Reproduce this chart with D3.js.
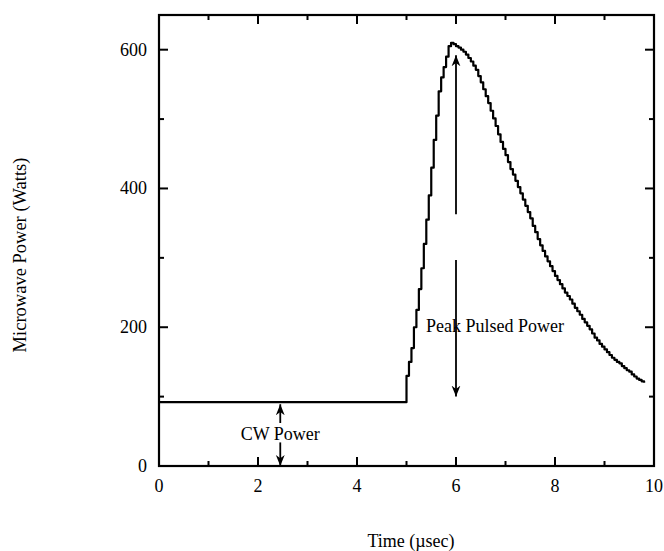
<!DOCTYPE html>
<html>
<head>
<meta charset="utf-8">
<script src="https://cdn.jsdelivr.net/npm/d3@7"></script>
<style>
  body { margin: 0; background: #fff; }
  text { font-family: "Liberation Serif", "DejaVu Serif", serif; fill: #000; }
</style>
</head>
<body>
<div id="chart"></div>
<script>
// Data (time in usec, power in W)
var timeUs = [0, 4.98, 5.00, 5.05, 5.10, 5.15, 5.20, 5.25, 5.30, 5.35, 5.40, 5.45, 5.50, 5.55, 5.60,
    5.65, 5.70, 5.75, 5.80, 5.85, 5.90, 5.95,
    6.00, 6.05, 6.10, 6.15, 6.20, 6.25, 6.30, 6.35, 6.40, 6.45, 6.50, 6.55, 6.60, 6.65, 6.70, 6.75,
    6.80, 6.85, 6.90, 6.95, 7.00, 7.05, 7.10, 7.15, 7.20, 7.25, 7.30, 7.35, 7.40, 7.45, 7.50, 7.55,
    7.60, 7.65, 7.70, 7.75, 7.80, 7.85, 7.90, 7.95, 8.00, 8.05, 8.10, 8.15, 8.20, 8.25, 8.30, 8.35,
    8.40, 8.45, 8.50, 8.55, 8.60, 8.65, 8.70, 8.75, 8.80, 8.85, 8.90, 8.95, 9.00, 9.05, 9.10, 9.15,
    9.20, 9.25, 9.30, 9.35, 9.40, 9.45, 9.50, 9.55, 9.60, 9.65, 9.70, 9.75, 9.80];
var powerW = [92, 92, 130, 150, 170, 200, 225, 255, 285, 320, 355, 390, 430, 470, 505,
    540, 560, 575, 590, 605, 610, 608,
    605, 603, 600, 597, 593, 588, 583, 577, 571, 562, 553, 543, 533, 523, 512, 501,
    490, 478, 467, 457, 448, 438, 428, 420, 411, 402, 393, 384, 375, 366, 357, 346,
    337, 327, 318, 310, 302, 295, 288, 281, 274, 268, 262, 256, 250, 245, 240, 234,
    228, 223, 218, 212, 207, 202, 197, 191, 185, 181, 176, 172, 168, 164, 160, 156,
    153, 150, 148, 144, 141, 138, 136, 132, 129, 126, 124, 122, 120];

var xTicks = [0, 2, 4, 6, 8, 10];
var xMinor = [1, 3, 5, 7, 9];
var yTicks = [0, 200, 400, 600];
var yMinor = [100, 300, 500];

var w = 664, h = 551;
var pLeft = 159, pRight = 654, pTop = 15, pBottom = 466;

var svg = d3.select("#chart").append("svg").attr("width", w).attr("height", h);

var x = d3.scaleLinear().domain([0, 10]).range([pLeft, pRight]);
var y = d3.scaleLinear().domain([0, 650]).range([pBottom, pTop]);

// arrow marker
svg.append("defs").append("marker")
    .attr("id", "head")
    .attr("viewBox", "0 0 10 10")
    .attr("refX", 10).attr("refY", 5)
    .attr("markerWidth", 11).attr("markerHeight", 11)
    .attr("markerUnits", "userSpaceOnUse")
    .attr("orient", "auto")
    .append("path").attr("d", "M0,1 L10,5 L0,9 L3,5 Z").attr("fill", "#000");

// inward ticks on all four sides
var tickG = svg.append("g").attr("stroke", "#000").attr("stroke-width", 2);
function xTickLines(vals, len) {
    tickG.selectAll(null).data(vals).enter().append("line")
        .attr("x1", function(d) { return x(d); }).attr("x2", function(d) { return x(d); })
        .attr("y1", pBottom).attr("y2", pBottom - len);
    tickG.selectAll(null).data(vals).enter().append("line")
        .attr("x1", function(d) { return x(d); }).attr("x2", function(d) { return x(d); })
        .attr("y1", pTop).attr("y2", pTop + len);
}
function yTickLines(vals, len) {
    tickG.selectAll(null).data(vals).enter().append("line")
        .attr("y1", function(d) { return y(d); }).attr("y2", function(d) { return y(d); })
        .attr("x1", pLeft).attr("x2", pLeft + len);
    tickG.selectAll(null).data(vals).enter().append("line")
        .attr("y1", function(d) { return y(d); }).attr("y2", function(d) { return y(d); })
        .attr("x1", pRight).attr("x2", pRight - len);
}
xTickLines(xTicks, 9);
xTickLines(xMinor, 5);
yTickLines(yTicks, 9);
yTickLines(yMinor, 5);

svg.append("rect")
    .attr("x", pLeft).attr("y", pTop)
    .attr("width", pRight - pLeft).attr("height", pBottom - pTop)
    .attr("fill", "none").attr("stroke", "#000").attr("stroke-width", 2.2);

// tick labels
svg.selectAll(".xl").data(xTicks).enter().append("text")
    .attr("x", function(d) { return x(d); })
    .attr("y", pBottom + 26)
    .attr("text-anchor", "middle")
    .attr("font-size", "18px")
    .text(function(d) { return d; });

svg.selectAll(".yl").data(yTicks).enter().append("text")
    .attr("x", pLeft - 12)
    .attr("y", function(d) { return y(d) + 6; })
    .attr("text-anchor", "end")
    .attr("font-size", "18px")
    .text(function(d) { return d; });

// axis titles
svg.append("text")
    .attr("x", 411).attr("y", 547)
    .attr("text-anchor", "middle")
    .attr("font-size", "18px")
    .text("Time (\u00b5sec)");

svg.append("text")
    .attr("transform", "translate(26,255) rotate(-90)")
    .attr("text-anchor", "middle")
    .attr("font-size", "18.5px")
    .text("Microwave Power (Watts)");

// the trace
var data = timeUs.map(function(t, i) { return { t: t, p: powerW[i] }; });
svg.append("path")
    .datum(data)
    .attr("fill", "none")
    .attr("stroke", "#000")
    .attr("stroke-width", 2.2)
    .attr("stroke-linejoin", "round")
    .attr("d", d3.line()
        .x(function(d) { return x(d.t); })
        .y(function(d) { return y(d.p); })
        .curve(d3.curveStepAfter));

// annotations
function arrow(t, p0, p1) {
    svg.append("line")
        .attr("x1", x(t)).attr("y1", y(p0))
        .attr("x2", x(t)).attr("y2", y(p1))
        .attr("stroke", "#000").attr("stroke-width", 1.8)
        .attr("marker-end", "url(#head)");
}
arrow(6.0, 363, 592);
arrow(6.0, 297, 100);
svg.append("text")
    .attr("x", x(6.0) - 30).attr("y", 332)
    .attr("font-size", "18px")
    .text("Peak Pulsed Power");

arrow(2.45, 62, 89);
arrow(2.45, 34, 0);
svg.append("text")
    .attr("x", x(2.45)).attr("y", 440)
    .attr("text-anchor", "middle")
    .attr("font-size", "18px")
    .text("CW Power");
</script>
</body>
</html>
